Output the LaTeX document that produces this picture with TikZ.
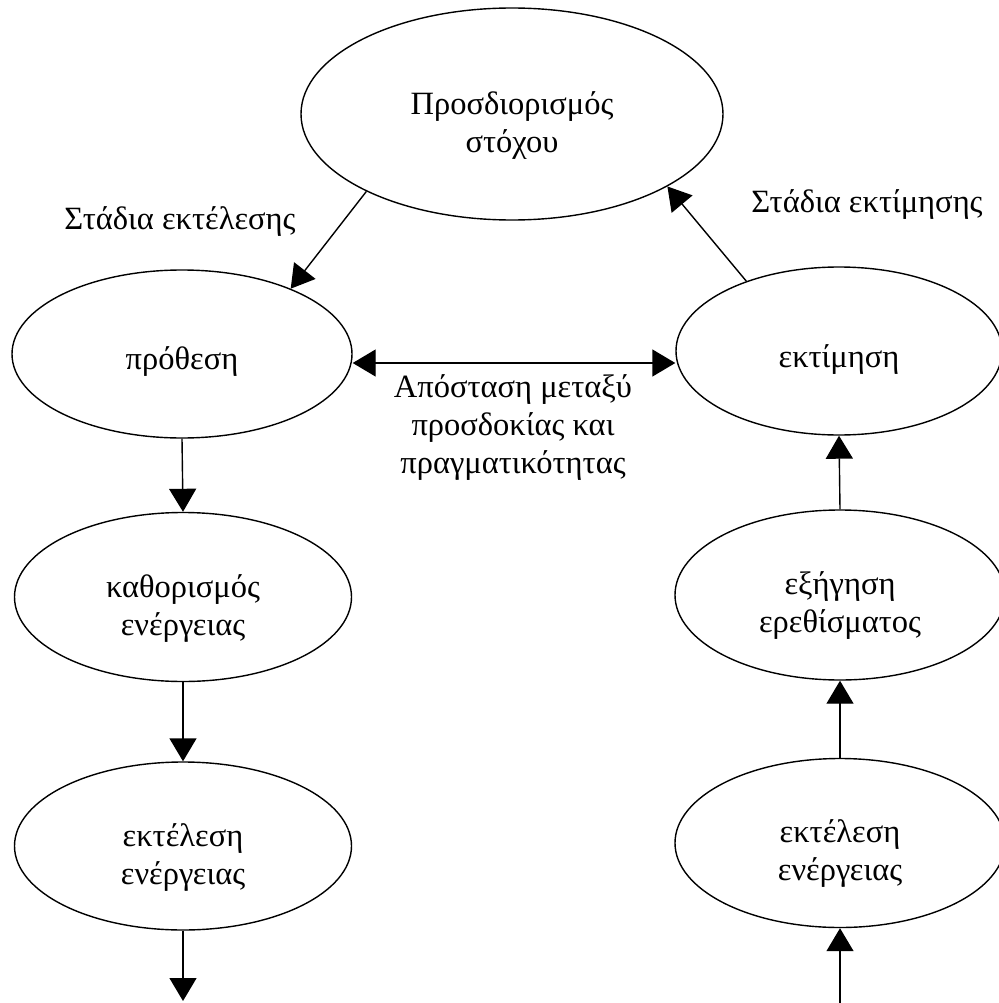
\documentclass[tikz,border=0pt]{standalone}
\usepackage{fontspec}
\setmainfont{Liberation Serif}
\usetikzlibrary{shapes.geometric,arrows.meta}
\begin{document}
\begin{tikzpicture}[x=1pt,y=-1pt,
  oval/.style={draw, ellipse, line width=1.4pt, inner sep=0pt},
  txt/.style={align=center, font=\fontsize{32.5}{38}\selectfont, inner sep=0pt},
  conn/.style={line width=1.4pt, -{Triangle[length=23pt,width=27pt]}},
  dconn/.style={line width=1.4pt, {Triangle[length=23pt,width=27pt]}-{Triangle[length=23pt,width=27pt]}},
]
\useasboundingbox (0,0) rectangle (998,1003);
% ellipses
\node[oval, minimum width=422pt, minimum height=212pt] (goal)   at (512,114) {};
\node[oval, minimum width=340pt, minimum height=168pt] (intent) at (182,354) {};
\node[oval, minimum width=337pt, minimum height=169pt] (spec)   at (183,597) {};
\node[oval, minimum width=337pt, minimum height=168pt] (execL)  at (183,846) {};
\node[oval, minimum width=326pt, minimum height=168pt] (evalR)  at (839,351) {};
\node[oval, minimum width=330pt, minimum height=170pt] (interp) at (840,595) {};
\node[oval, minimum width=330pt, minimum height=169pt] (execR)  at (840,843) {};
% texts
\node[txt] (goaltxt)   at ([yshift=-12pt]goal.center)   {Προσδιορισμός\\στόχου};
\node[txt] (intenttxt) at ([yshift=-7pt]intent.center)  {πρόθεση};
\node[txt] (spectxt)   at ([yshift=-11pt]spec.center)   {καθορισμός\\ενέργειας};
\node[txt] (execLtxt)  at ([yshift=-11pt]execL.center)  {εκτέλεση\\ενέργειας};
\node[txt] (evalRtxt)  at ([yshift=-9pt]evalR.center)   {εκτίμηση};
\node[txt] (interptxt) at ([yshift=-11pt]interp.center) {εξήγηση\\ερεθίσματος};
\node[txt] (execRtxt)  at ([yshift=-10pt]execR.center)  {εκτέλεση\\ενέργειας};
% labels
\node[txt] (lblexec) at (180,222) {Στάδια εκτέλεσης};
\node[txt] (lbleval) at (867,205) {Στάδια εκτίμησης};
\node[txt] (gaplbl)  at (513,428) {Απόσταση μεταξύ\\προσδοκίας και\\πραγματικότητας};
% connectors
\draw[conn] (goal.208) -- (intent.31);
\draw[conn] (evalR.143) -- (goal.335);
\draw[dconn] ([yshift=-9pt]intent.east) -- ([yshift=-9pt]intent.east -| evalR.west);
\draw[conn] (intent.south) -- (spec.north);
\draw[conn] (spec.south) -- (execL.north);
\coordinate (botL) at (183,1001);
\draw[conn] (execL.south) -- (botL);
\coordinate (botR) at (840,1003);
\draw[conn] (botR) -- (execR.south);
\draw[conn] (execR.north) -- (interp.south);
\draw[conn] (interp.north) -- (evalR.south);
\end{tikzpicture}
\end{document}
